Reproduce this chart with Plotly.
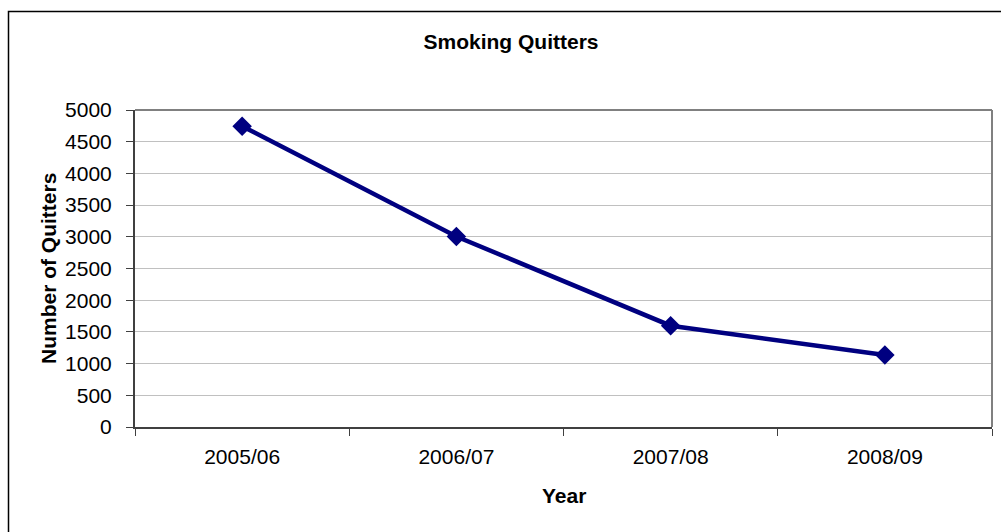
import plotly.graph_objects as go

# Smoking quitters per financial year
years = ["2005/06", "2006/07", "2007/08", "2008/09"]
quitters = [4745, 3005, 1598, 1135]

y_ticks = list(range(0, 5001, 500))

W, H = 1001, 532
L, R, T, B = 135, 9, 110, 105
plot_w = W - L - R
plot_h = H - T - B


def px_x(px):
    return (px - L) / plot_w


def px_y(py):
    return (H - B - py) / plot_h


font_family = "Liberation Sans, Arial, sans-serif"
navy = "#000080"

fig = go.Figure()
fig.add_trace(go.Scatter(
    x=years,
    y=quitters,
    mode="lines+markers",
    line=dict(color=navy, width=4.5),
    marker=dict(symbol="diamond", size=15, color=navy),
    showlegend=False,
    cliponaxis=False,
))

fig.update_layout(
    width=W,
    height=H,
    margin=dict(l=L, r=R, t=T, b=B, autoexpand=False),
    paper_bgcolor="white",
    plot_bgcolor="white",
    font=dict(family=font_family, size=21, color="black"),
    title=dict(
        text="<b>Smoking Quitters</b>",
        font=dict(size=21, family=font_family, color="black"),
        xref="container", x=511 / W, xanchor="center",
        yref="container", y=1 - 42 / H, yanchor="middle",
    ),
    xaxis=dict(
        type="category",
        range=[-0.5, 3.5],
        tickson="boundaries",
        ticks="outside",
        ticklen=7,
        tickwidth=1,
        tickcolor="#404040",
        showline=True,
        linecolor="#404040",
        linewidth=2,
        showgrid=False,
        ticklabelstandoff=10,
        tickfont=dict(size=21),
        fixedrange=True,
    ),
    yaxis=dict(
        range=[0, 5000],
        tickvals=y_ticks,
        ticks="outside",
        ticklen=7,
        tickwidth=1,
        tickcolor="#404040",
        showline=True,
        linecolor="#404040",
        linewidth=2,
        showgrid=True,
        gridcolor="#c0c0c0",
        gridwidth=1,
        zeroline=False,
        ticklabelstandoff=10,
        tickfont=dict(size=21),
        fixedrange=True,
    ),
    shapes=[
        # plot area frame (top and right edges)
        dict(type="line", xref="paper", yref="paper", x0=0, x1=1, y0=1, y1=1,
             line=dict(color="#808080", width=2)),
        dict(type="line", xref="paper", yref="paper", x0=1, x1=1, y0=0, y1=1,
             line=dict(color="#808080", width=2)),
        # outer chart border
        dict(type="rect", xref="paper", yref="paper",
             x0=px_x(8.5), x1=px_x(1020), y0=px_y(560), y1=px_y(11.5),
             line=dict(color="black", width=1.5), fillcolor="rgba(0,0,0,0)"),
    ],
    annotations=[
        dict(text="<b>Number of Quitters</b>", xref="paper", yref="paper",
             x=px_x(48), y=px_y(269), xanchor="center", yanchor="middle",
             textangle=-90, showarrow=False, font=dict(size=21)),
        dict(text="<b>Year</b>", xref="paper", yref="paper",
             x=px_x(564), y=px_y(495), xanchor="center", yanchor="middle",
             showarrow=False, font=dict(size=21)),
    ],
)

fig.write_html("out.html")
